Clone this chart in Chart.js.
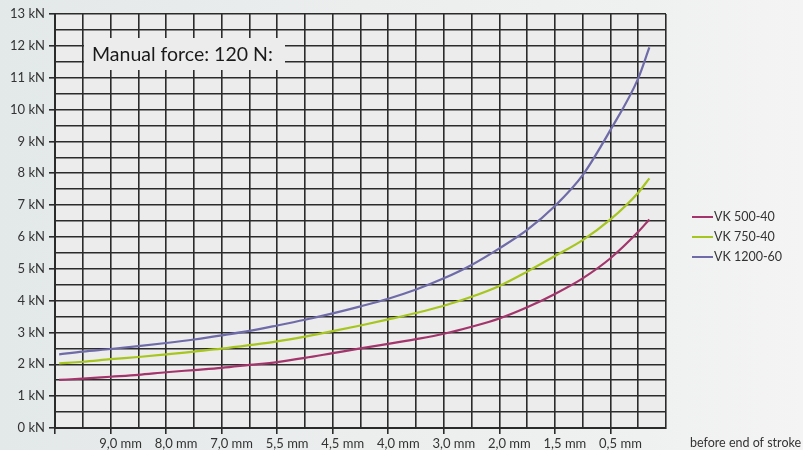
<!DOCTYPE html>
<html>
<head>
<meta charset="utf-8">
<script src="https://cdn.jsdelivr.net/npm/chart.js@4"></script>
<style>
  html, body { margin: 0; padding: 0; }
  body {
    width: 803px; height: 450px; overflow: hidden;
    background: linear-gradient(to right, #e3e8e9 0%, #eceeee 45%, #eff0f0 80%, #f4f4f4 100%);
  }
  #wrap { position: relative; width: 803px; height: 450px; }
</style>
</head>
<body>
<div id="wrap"><canvas id="forceChart"></canvas></div>
<script>
// Stroke positions (grid columns) and x tick labels
const xLabels = ['9,0 mm', '8,0 mm', '7,0 mm', '5,5 mm', '4,5 mm', '4,0 mm', '3,0 mm', '2,0 mm', '1,5 mm', '0,5 mm'];
const xPos = [0.15, 1, 2, 3, 4, 5, 6, 7, 8, 9, 10, 11, 12, 13, 14, 15, 16, 17, 18, 19, 20, 21, 21.4];

// Force in kN
const vk500 = [1.51, 1.55, 1.61, 1.67, 1.75, 1.82, 1.89, 1.98, 2.07, 2.20, 2.35, 2.50, 2.64, 2.79, 2.96, 3.18, 3.44, 3.79, 4.21, 4.70, 5.33, 6.16, 6.55];
const vk750 = [2.03, 2.08, 2.16, 2.23, 2.31, 2.40, 2.49, 2.60, 2.72, 2.87, 3.04, 3.22, 3.41, 3.61, 3.84, 4.12, 4.46, 4.91, 5.40, 5.90, 6.55, 7.39, 7.84];
const vk1200 = [2.31, 2.40, 2.48, 2.57, 2.67, 2.78, 2.91, 3.05, 3.22, 3.40, 3.60, 3.82, 4.06, 4.35, 4.70, 5.12, 5.64, 6.22, 6.97, 7.94, 9.36, 10.98, 11.95];

const seriesNames = ['VK 500-40', 'VK 750-40', 'VK 1200-60'];
const seriesColors = ['#a3356c', '#a6c51e', '#6e6ba8'];

const FONT = 'Lato, "DejaVu Sans", sans-serif';
const GRID = '#2b2b2b';

function toPoints(values) {
    return xPos.map((x, i) => ({ x: x, y: values[i] }));
}

// Background of the plot area, label box, legend and axis note
const decorations = {
    id: 'decorations',
    beforeDraw(chart) {
        const { ctx, chartArea: a } = chart;
        ctx.save();
        ctx.fillStyle = '#ececec';
        ctx.fillRect(a.left, a.top, a.right - a.left, a.bottom - a.top);
        ctx.restore();
    },
    afterDraw(chart) {
        const { ctx } = chart;
        ctx.save();
        // "Manual force" label box
        ctx.fillStyle = '#ececec';
        ctx.fillRect(84, 38, 201, 32);
        ctx.fillStyle = '#1a1a1a';
        ctx.font = '19.5px ' + FONT;
        ctx.textBaseline = 'middle';
        ctx.fillText('Manual force: 120 N:', 92, 55);

        // legend
        ctx.font = '12.5px ' + FONT;
        chart.data.datasets.forEach((ds, i) => {
            const y = 217 + i * 20;
            ctx.strokeStyle = ds.borderColor;
            ctx.lineWidth = 2;
            ctx.beginPath();
            ctx.moveTo(692, y);
            ctx.lineTo(713, y);
            ctx.stroke();
            ctx.fillStyle = '#333';
            ctx.fillText(ds.label, 714, y);
        });

        // x axis note
        ctx.font = '12.5px ' + FONT;
        ctx.fillText('before end of stroke', 690, 443);
        ctx.restore();
    }
};

const chart = new Chart(document.getElementById('forceChart'), {
    type: 'line',
    data: {
        datasets: [vk500, vk750, vk1200].map((vals, i) => ({
            label: seriesNames[i],
            data: toPoints(vals),
            borderColor: seriesColors[i],
            backgroundColor: seriesColors[i],
            borderWidth: 2.2,
            pointRadius: 0,
            cubicInterpolationMode: 'monotone',
            fill: false
        }))
    },
    options: {
        responsive: true,
        maintainAspectRatio: false,
        animation: false,
        layout: { padding: { left: 0, right: 137, top: 14, bottom: 0 } },
        plugins: {
            legend: { display: false },
            tooltip: { enabled: false }
        },
        scales: {
            x: {
                type: 'linear',
                min: 0,
                max: 22,
                afterFit: s => { s.height = 22; },
                border: { color: GRID, width: 2 },
                grid: {
                    color: GRID,
                    lineWidth: 1.6,
                    tickLength: 6,
                    tickColor: c => (c.tick && c.tick.value % 2 === 0 && c.tick.value < 22) ? GRID : 'rgba(0,0,0,0)'
                },
                ticks: {
                    stepSize: 1,
                    maxTicksLimit: 50,
                    autoSkip: false,
                    maxRotation: 0,
                    padding: 2,
                    labelOffset: 10,
                    color: '#333',
                    font: { family: FONT, size: 13 },
                    callback: v => (v % 2 === 0 && v >= 2 && v <= 20) ? xLabels[v / 2 - 1] : ''
                }
            },
            y: {
                min: 0,
                max: 13,
                afterFit: s => { s.width = 55; },
                border: { color: GRID, width: 2 },
                grid: {
                    color: GRID,
                    lineWidth: 1.6,
                    tickLength: 6,
                    tickColor: c => (c.tick && Number.isInteger(c.tick.value)) ? GRID : 'rgba(0,0,0,0)'
                },
                ticks: {
                    stepSize: 0.5,
                    maxTicksLimit: 50,
                    autoSkip: false,
                    padding: 4,
                    color: '#333',
                    font: { family: FONT, size: 13 },
                    callback: v => Number.isInteger(v) ? v + ' kN' : ''
                }
            }
        }
    },
    plugins: [decorations]
});
</script>
</body>
</html>
